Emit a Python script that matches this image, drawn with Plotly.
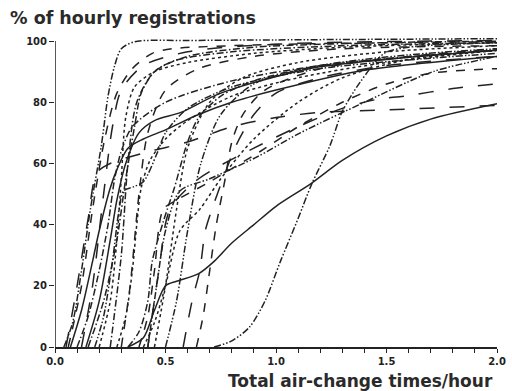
import plotly.graph_objects as go

# ---- data ----
c01_x = [0.04, 0.08, 0.12, 0.16, 0.21, 0.24, 0.27, 0.30, 0.36, 0.6, 1.0, 1.5, 2.0]
c01_y = [0, 8, 25, 45, 66, 82, 92, 97.5, 99.8, 100.2, 100.4, 100.6, 100.8]
c02_x = [0.06, 0.12, 0.17, 0.225, 0.28, 0.35, 0.44, 0.53, 0.8, 1.2, 2.0]
c02_y = [0, 20, 45, 68, 83, 91, 96, 97.5, 98.5, 99.2, 99.8]
c03_x = [0.15, 0.22, 0.28, 0.32, 0.36, 0.39, 0.45, 0.54, 0.8, 1.3, 2.0]
c03_y = [0, 15, 35, 55, 72, 83, 90, 93.6, 96.5, 98.5, 99.5]
c04_x = [0.20, 0.25, 0.28, 0.30, 0.32, 0.36, 0.45, 0.6, 0.9, 1.3, 2.0]
c04_y = [0, 15, 35, 55, 75, 85, 90, 93, 96, 98, 99.5]
c05_x = [0.07, 0.12, 0.17, 0.20, 0.25, 0.28, 0.33, 0.40, 0.50, 0.65, 0.80, 1.0, 1.4, 2.0]
c05_y = [0, 12, 28, 38, 52, 58, 65, 68, 71, 76, 80, 84, 90.5, 95]
c06_x = [0.14, 0.20, 0.25, 0.28, 0.32, 0.38, 0.45, 0.57, 0.75, 1.15, 1.5, 2.0]
c06_y = [0, 15, 35, 48, 60, 70, 74, 76.7, 83, 91, 94, 97]
c07_x = [0.05, 0.10, 0.15, 0.19, 0.25, 0.43, 0.60, 0.80, 1.0, 1.2, 1.5, 2.0]
c07_y = [0, 20, 42, 57, 60, 64, 67, 72, 75, 76.7, 77.5, 79]
c08_x = [0.10, 0.15, 0.20, 0.24, 0.27, 0.30, 0.35, 0.50, 0.80, 1.2, 2.0]
c08_y = [0, 10, 25, 40, 55, 64, 72, 80, 87, 92, 97]
c09_x = [0.18, 0.22, 0.26, 0.29, 0.31, 0.36, 0.40, 0.46, 0.50, 0.60, 0.80, 1.2, 2.0]
c09_y = [0, 10, 28, 45, 51, 52.5, 54, 63, 70, 78, 85, 91, 96]
c10_x = [0.28, 0.32, 0.35, 0.37, 0.39, 0.43, 0.50, 0.60, 0.80, 1.1, 1.5, 2.0]
c10_y = [0, 10, 25, 40, 52, 61, 68, 74, 82, 88, 93, 97]
c11_x = [0.33, 0.38, 0.42, 0.44, 0.49, 0.54, 0.60, 0.65, 0.75, 0.9, 1.2, 2.0]
c11_y = [0, 5, 15, 28, 41, 52, 67, 75, 82, 87, 92, 97]
c12_x = [0.40, 0.45, 0.50, 0.565, 0.655, 0.75, 0.90, 1.1, 1.3, 1.6, 2.0]
c12_y = [0, 8, 20, 38, 45, 55, 68, 80, 88, 94, 97]
c13_x = [0.38, 0.42, 0.45, 0.49, 0.55, 0.70, 0.93, 1.1, 1.3, 1.5, 1.7, 2.0]
c13_y = [0, 10, 25, 45, 48, 54, 64, 72, 80, 86, 89.5, 91]
c14_x = [0.42, 0.46, 0.50, 0.565, 0.70, 0.91, 1.11, 1.4, 1.71, 2.0]
c14_y = [0, 20, 38, 51, 55, 62, 70, 80, 90, 95]
c15_x = [0.58, 0.62, 0.655, 0.68, 0.71, 0.76, 0.82, 0.90, 1.0, 1.2, 1.5, 2.0]
c15_y = [0, 15, 25, 38, 45, 55, 66, 76, 83, 88, 92, 95]
c16_x = [0.64, 0.67, 0.70, 0.73, 0.77, 0.80, 0.85, 0.95, 1.2, 1.6, 2.0]
c16_y = [0, 10, 25, 40, 55, 67, 76, 84, 91, 95, 97.5]
c17_x = [0.42, 0.47, 0.52, 0.65, 0.90, 1.1, 1.3, 1.46, 1.58, 1.8, 2.0]
c17_y = [0, 25, 45, 55, 65, 72, 78, 81, 82, 84.5, 86]
c18_x = [0.33, 0.40, 0.45, 0.50, 0.55, 0.65, 0.72, 0.80, 0.90, 1.0, 1.16, 1.3, 1.5, 1.7, 2.0]
c18_y = [0, 3, 12, 20, 21.5, 24, 28, 34, 40, 46, 53.5, 61, 69, 74.5, 79.5]
c19_x = [0.72, 0.80, 0.88, 0.95, 1.02, 1.1, 1.16, 1.245, 1.30, 1.38, 1.49, 1.6, 2.0]
c19_y = [0, 2, 6.5, 15, 28, 42, 53, 66, 77, 86.5, 96, 98, 99.5]
c20_x = [0.25, 0.30, 0.33, 0.37, 0.45, 0.60, 0.90, 1.5, 2.0]
c20_y = [0, 30, 60, 80, 90, 95, 98, 99.5, 100]
c21_x = [0.30, 0.34, 0.38, 0.42, 0.50, 0.65, 0.90, 1.3, 2.0]
c21_y = [0, 20, 50, 70, 84, 91, 95, 97.5, 98.5]
c22_x = [0.45, 0.50, 0.55, 0.60, 0.70, 0.85, 1.1, 1.5, 2.0]
c22_y = [0, 20, 45, 65, 80, 88, 93, 96.5, 98.5]
c23_x = [0.50, 0.55, 0.60, 0.66, 0.75, 0.90, 1.2, 1.6, 2.0]
c23_y = [0, 15, 38, 60, 76, 86, 92, 95.5, 97.5]
c24_x = [0.12, 0.17, 0.22, 0.26, 0.30, 0.40, 0.60, 1.0, 2.0]
c24_y = [0, 20, 50, 72, 84, 92, 96.5, 99, 100.2]

series_x = [c01_x, c02_x, c03_x, c04_x, c05_x, c06_x, c07_x, c08_x, c09_x, c10_x, c11_x, c12_x,
            c13_x, c14_x, c15_x, c16_x, c17_x, c18_x, c19_x, c20_x, c21_x, c22_x, c23_x, c24_x]
series_y = [c01_y, c02_y, c03_y, c04_y, c05_y, c06_y, c07_y, c08_y, c09_y, c10_y, c11_y, c12_y,
            c13_y, c14_y, c15_y, c16_y, c17_y, c18_y, c19_y, c20_y, c21_y, c22_y, c23_y, c24_y]

x_tick_vals = [round(i * 0.1, 1) for i in range(21)]
x_tick_text = ["0.0", "", "", "", "", "0.5", "", "", "", "", "1.0", "", "", "", "", "1.5",
               "", "", "", "", "2.0"]
y_tick_vals = [0, 20, 40, 60, 80, 100]

# ---- styles ----
DDD = "7px,2px,1.5px,2px,1.5px,2px"
DD = "7px,2.5px,1.5px,2.5px"
styles = [DDD, "dash", DD, "dot", "solid", "solid", "longdash", DD, DDD, "dot", DD, "dot",
          "dash", DDD, "longdash", "dash", "longdash", "solid", DDD, DD, "dash", "dot", DDD, "longdash"]

fig = go.Figure()
for xs, ys, st in zip(series_x, series_y, styles):
    fig.add_trace(go.Scatter(x=xs, y=ys, mode="lines",
                             line=dict(color="#222222", width=1.5, dash=st,
                                       shape="spline", smoothing=0.8),
                             showlegend=False, hoverinfo="skip"))

# y axis line only from 0 to 100
fig.add_shape(type="line", xref="x", yref="y", x0=0, x1=0, y0=0, y1=100,
              line=dict(color="#222", width=1.5))

fig.add_annotation(text="Total air-change times/hour", xref="paper", yref="paper",
                   x=(360 - 55) / 442, y=(347 - 381) / 312, xanchor="center", yanchor="middle",
                   showarrow=False,
                   font=dict(family="DejaVu Sans", size=17, color="#2a2a2a", weight="bold"))

fig.update_layout(
    width=512, height=391,
    margin=dict(l=55, r=15, t=35, b=44, autoexpand=False),
    paper_bgcolor="white", plot_bgcolor="white",
    title=dict(text="% of hourly registrations", x=10 / 512, xanchor="left", xref="container",
               y=1 - 18 / 391, yanchor="middle", yref="container",
               font=dict(family="DejaVu Sans", size=17.5, color="#2a2a2a", weight="bold")),
    xaxis=dict(range=[0, 2.0], tickvals=x_tick_vals, ticktext=x_tick_text, ticks="outside",
               ticklen=4, tickwidth=1.2, tickcolor="#222", showline=True, linecolor="#222",
               linewidth=1.5, showgrid=False, zeroline=False, automargin=False,
               tickfont=dict(family="DejaVu Sans", size=10, color="#222", weight="bold")),
    yaxis=dict(range=[0, 102], tickvals=y_tick_vals, ticks="outside", ticklen=5, tickwidth=1.2,
               tickcolor="#222", showline=False, showgrid=False, zeroline=False, automargin=False,
               tickfont=dict(family="DejaVu Sans", size=10, color="#222", weight="bold")),
)

fig.write_html("out.html")
